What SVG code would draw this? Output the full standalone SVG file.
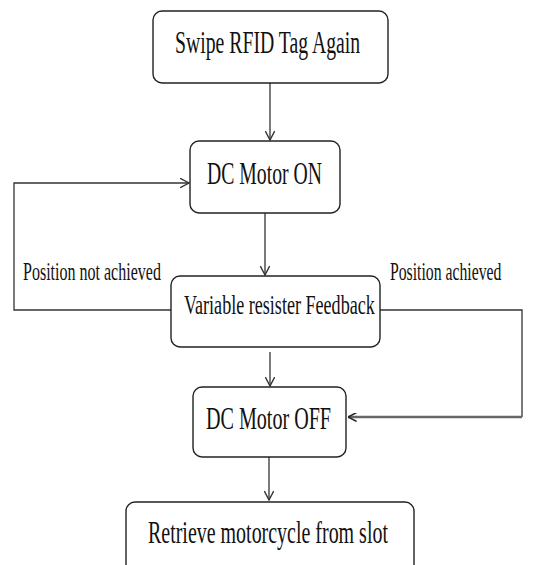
<svg xmlns="http://www.w3.org/2000/svg" width="533" height="565" viewBox="0 0 533 565">
  <style>
    .box { fill: #ffffff; stroke: #222222; stroke-width: 1.4; }
    .lbl { font-family: "Liberation Serif", "Times New Roman", serif; fill: #111111; }
    .node { font-size: 31px; }
    .node-sm { font-size: 28px; }
    .edge { font-size: 25px; }
    .wire { fill: none; stroke: #333333; stroke-width: 1.3; }
    .wire-thick { fill: none; stroke: #666666; stroke-width: 2.6; }
  </style>
  <defs>
    <marker id="vee" viewBox="0 0 10 10" refX="9.5" refY="5" markerWidth="10" markerHeight="10" markerUnits="userSpaceOnUse" orient="auto">
      <path d="M0,0 L9.5,5 L0,10" fill="none" stroke="#333333" stroke-width="1.4"/>
    </marker>
    <marker id="vee-dark" viewBox="0 0 10 10" refX="9.5" refY="5" markerWidth="9" markerHeight="9" markerUnits="userSpaceOnUse" orient="auto">
      <path d="M0,0 L9.5,5 L0,10" fill="none" stroke="#222222" stroke-width="1.6"/>
    </marker>
  </defs>

  <!-- connectors -->
  <g id="connectors">
    <line class="wire" x1="270" y1="83" x2="270" y2="140" marker-end="url(#vee)"/>
    <line class="wire" x1="265" y1="213" x2="265" y2="275" marker-end="url(#vee)"/>
    <line class="wire" x1="270" y1="352" x2="270" y2="386" marker-end="url(#vee)"/>
    <line class="wire" x1="269" y1="457" x2="269" y2="500" marker-end="url(#vee)"/>
    <!-- feedback loop: position not achieved -->
    <polyline class="wire" points="171,310 14,310 14,183 189,183" marker-end="url(#vee)"/>
    <!-- position achieved -->
    <polyline class="wire" points="380,310 522,310 522,417"/>
    <line class="wire-thick" x1="522" y1="417" x2="348" y2="417" marker-end="url(#vee-dark)"/>
    <text class="lbl edge" transform="translate(23,280) scale(0.641,1)">Position not achieved</text>
    <text class="lbl edge" transform="translate(390,280) scale(0.63,1)">Position achieved</text>
  </g>

  <g id="swipe">
    <rect class="box" x="153" y="11" width="235" height="72" rx="9"/>
    <text class="lbl node" transform="translate(175,53) scale(0.637,1)">Swipe RFID Tag Again</text>
  </g>

  <g id="motor-on">
    <rect class="box" x="190" y="141" width="150" height="72" rx="9"/>
    <text class="lbl node" transform="translate(207,184) scale(0.636,1)">DC Motor ON</text>
  </g>

  <g id="feedback">
    <rect class="box" x="171" y="276" width="209" height="71" rx="9"/>
    <text class="lbl node-sm" transform="translate(184,314) scale(0.646,1)">Variable resister Feedback</text>
  </g>

  <g id="motor-off">
    <rect class="box" x="193" y="387" width="153" height="70" rx="9"/>
    <text class="lbl node" transform="translate(206,429) scale(0.648,1)">DC Motor OFF</text>
  </g>

  <g id="retrieve">
    <rect class="box" x="126" y="502" width="288" height="80" rx="9"/>
    <text class="lbl node" transform="translate(148,543) scale(0.644,1)">Retrieve motorcycle from slot</text>
  </g>
</svg>
